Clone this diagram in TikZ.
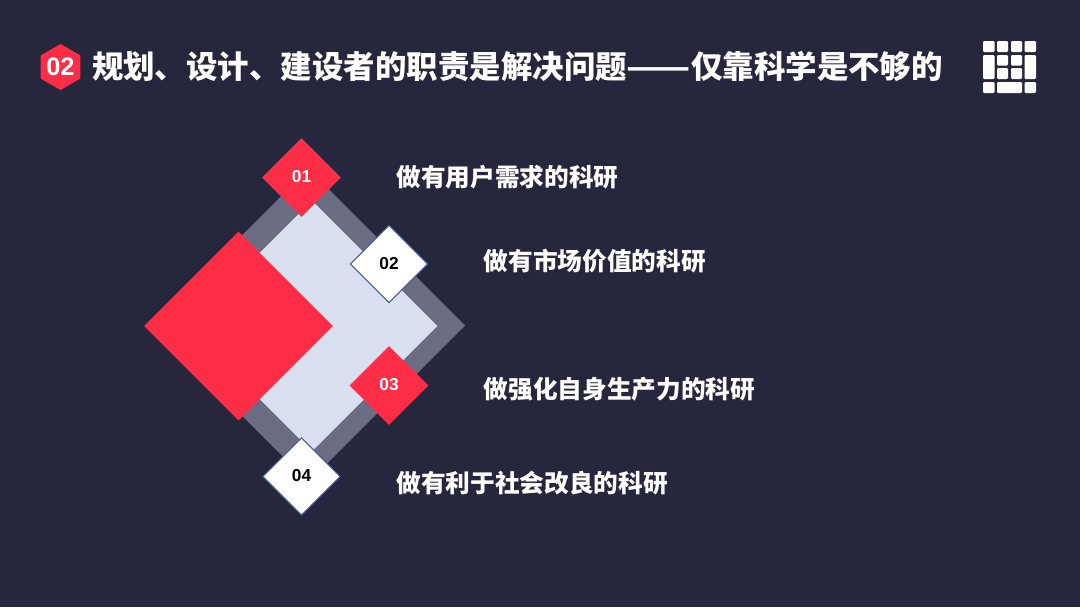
\documentclass[tikz,border=0pt]{standalone}
\usepackage{graphicx}
\usepackage{fontspec}
\setmainfont{Liberation Sans}
\newfontfamily\cjk{Noto Sans CJK SC}
\usetikzlibrary{shapes.geometric, positioning}

\definecolor{night}{HTML}{26263D}
\definecolor{hotred}{HTML}{FF2D46}
\definecolor{slate}{HTML}{6A6D82}
\definecolor{pale}{HTML}{D9E0F0}
\definecolor{rim}{HTML}{41598F}

\tikzset{
    tile/.style={diamond, aspect=1, minimum size=#1, inner sep=0pt, outer sep=0pt},
    redtile/.style={tile=59pt, fill=hotred, text=white, font=\bfseries\fontsize{13}{13}\selectfont},
    whitetile/.style={tile=58pt, fill=white, draw=rim, line width=.8pt, text=black, font=\bfseries\fontsize{13}{13}\selectfont},
    item/.style={inner sep=0pt, outer sep=0pt, text=white, font=\cjk\bfseries\fontsize{18.5}{18.5}\selectfont},
    cell/.style={fill=white, rounded corners=.8pt}
}

\begin{document}
\begin{tikzpicture}[x=.75pt, y=-.75pt]
    \fill[night] (0,0) rectangle (1080,607);
    \useasboundingbox (0,0) rectangle (1080,607);

    % heading
    \node[regular polygon, regular polygon sides=6, shape border rotate=30, minimum size=34.5pt, inner sep=0pt, fill=hotred,
        text=white, font=\bfseries\fontsize{19}{19}\selectfont] (badge) at (60.5,67) {02};
    \node[item, font=\cjk\bfseries\fontsize{23.6}{23.6}\selectfont, anchor=west] (title) at (92,67)
        {规划、设计、建设者的职责是解决问题\scalebox{1.19}[1]{——}仅靠科学是不够的};

    % icon
    \foreach \x/\w in {983/11.5, 997/11, 1011/11, 1024.5/11.5} {
        \fill[cell] (\x,41) rectangle ++(\w,11);
    }
    \foreach \x in {983, 1024.5} {
        \fill[cell] (\x,82) rectangle ++(11.5,11);
        \fill[cell] (\x,55) rectangle ++(11.5,24);
    }
    \foreach \x in {997, 1011} {
        \fill[cell] (\x,55) rectangle ++(11,10.5);
        \fill[cell] (\x,68) rectangle ++(11,11);
    }
    \fill[cell] (997,82) rectangle (1022,93);

    % big tiles
    \node[tile=235pt, fill=slate] (back) at (308.5,325.5) {};
    \node[tile=188pt, fill=pale] (front) at (312,326) {};
    \node[tile=141.5pt, fill=hotred] (big) at (238.5,326) {};

    % small tiles
    \node[redtile] (one) at (301.5,177.5) {\raisebox{1pt}{01}};
    \node[whitetile] (two) at (389,264) {\raisebox{1pt}{02}};
    \node[redtile] (three) at (389,385.5) {\raisebox{1.5pt}{03}};
    \node[whitetile] (four) at (301.5,476.5) {\raisebox{1pt}{04}};

    % labels
    \node[item] (oneText) [right=41.7pt of one] {做有用户需求的科研};
    \node[item] (twoText) [right=42pt of two, yshift=2pt] {做有市场价值的科研};
    \node[item] (threeText) [right=41.7pt of three, yshift=-3pt] {做强化自身生产力的科研};
    \node[item] (fourText) [right=42.2pt of four, yshift=-5pt] {做有利于社会改良的科研};
\end{tikzpicture}
\end{document}
